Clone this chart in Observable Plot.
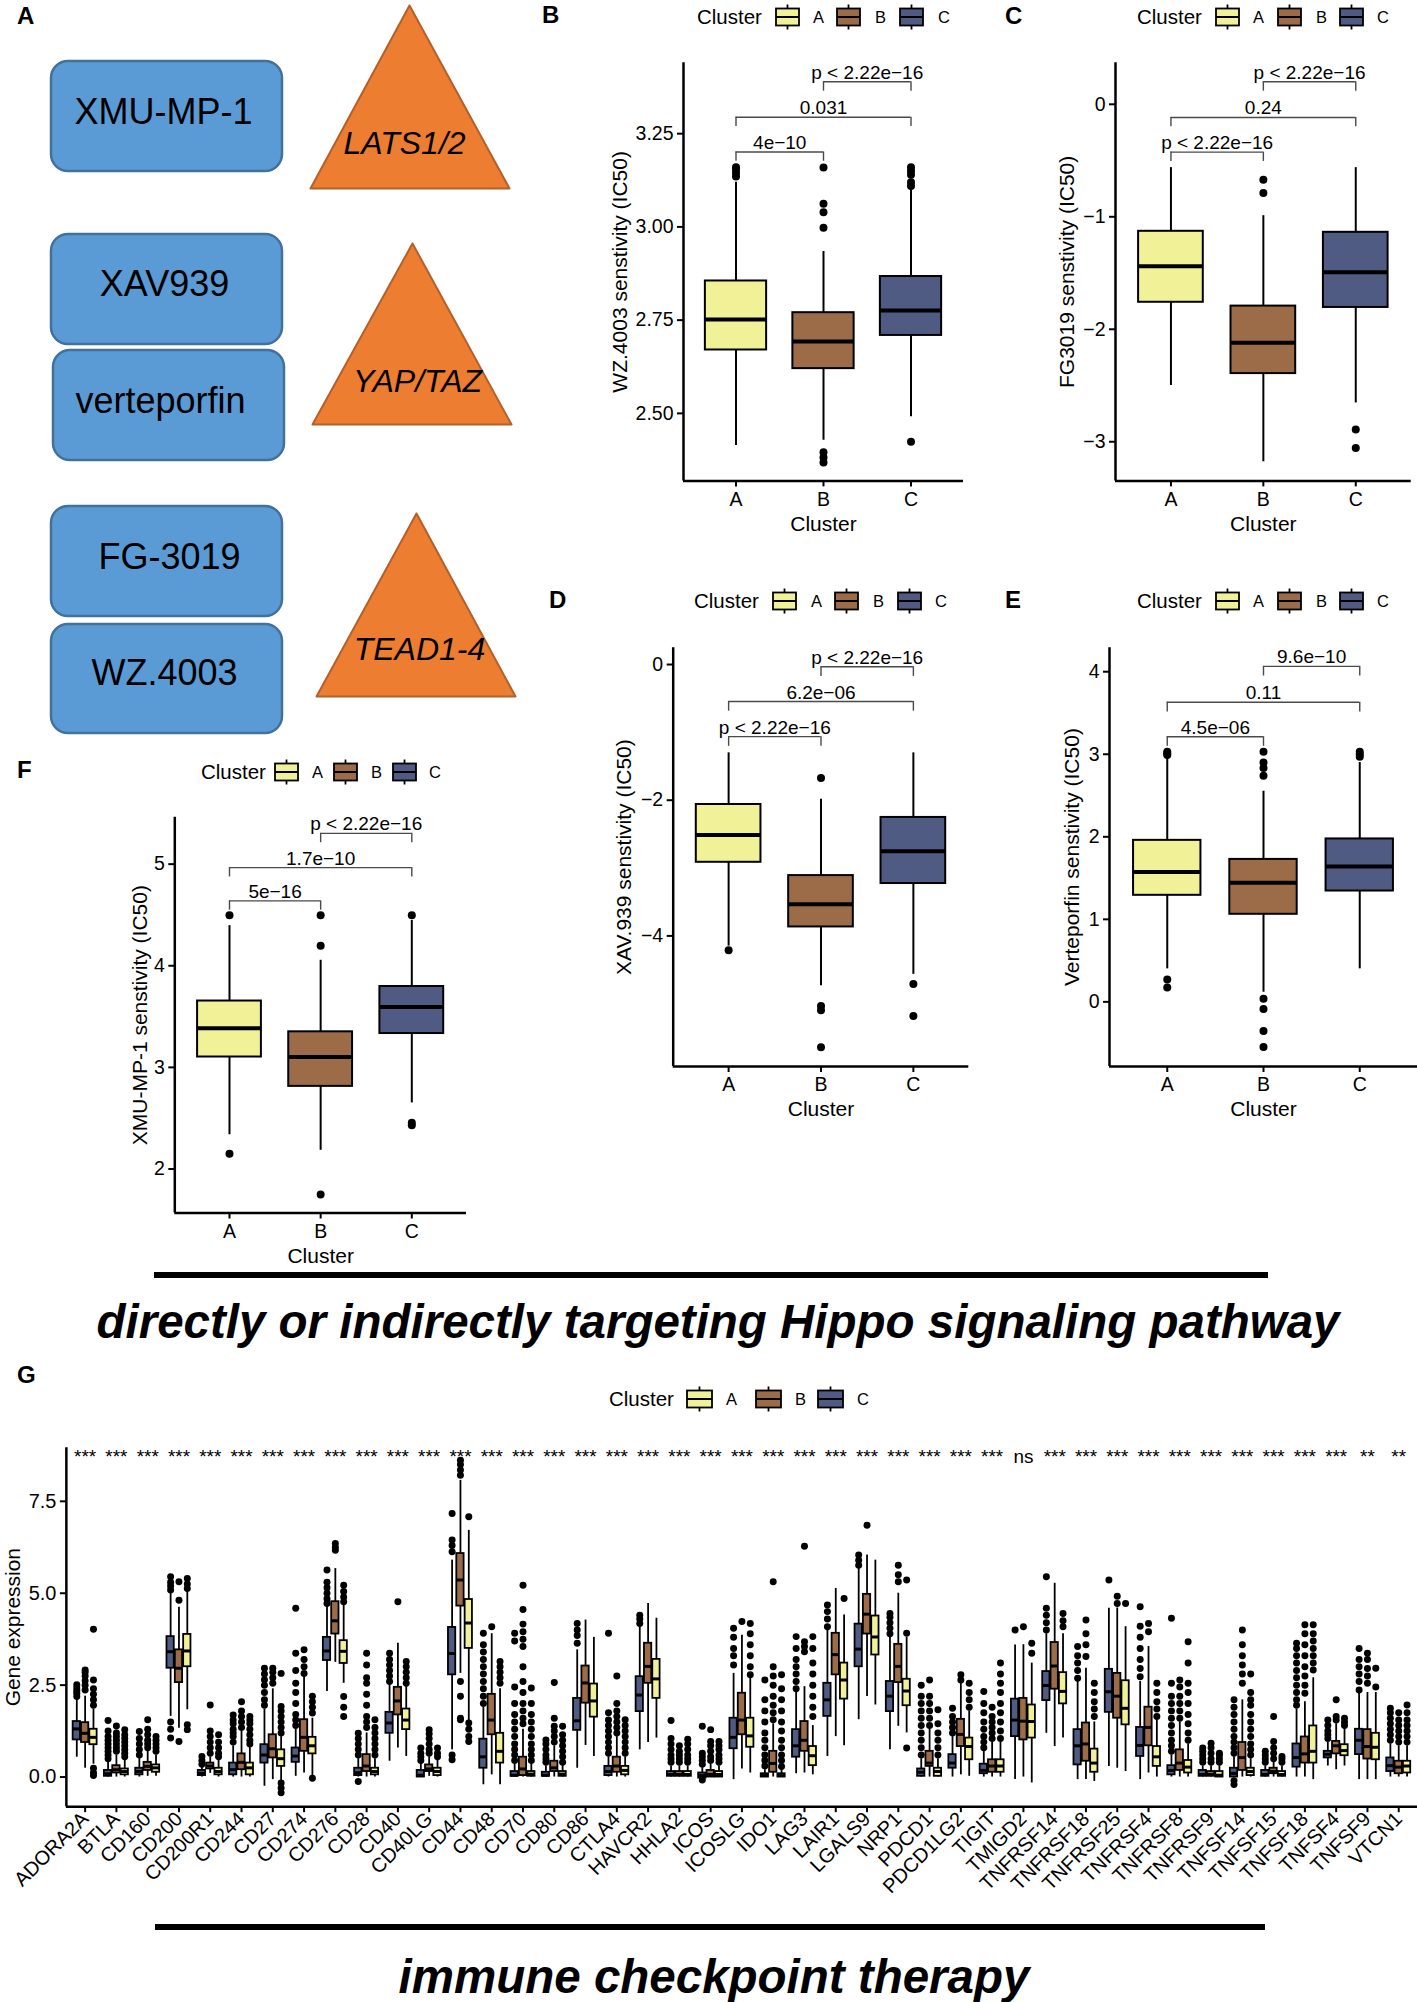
<!DOCTYPE html>
<html><head><meta charset="utf-8">
<script src="https://cdn.jsdelivr.net/npm/d3@7"></script>
<script src="https://cdn.jsdelivr.net/npm/@observablehq/plot@0.6"></script>
<style>
body{margin:0;background:#fff;}
#page{position:relative;width:1417px;height:2002px;overflow:hidden;background:#fff;font-family:"Liberation Sans",Arial,Helvetica,sans-serif;}
</style></head><body><div id="page"></div>
<script>
// ---------------- DATA ----------------
const clusters = ["A", "B", "C"];
const clusterColors = ["#F1F198", "#9C6B47", "#4F5B82"];

// Panel A (schematic)
const aDrugs = ["XMU-MP-1", "XAV939", "verteporfin", "FG-3019", "WZ.4003"];
const aTargets = ["LATS1/2", "YAP/TAZ", "TEAD1-4"];

// Drug sensitivity boxplots: [lo whisker, q1, median, q3, hi whisker] for A, B, C
const wzStats = [[2.414, 2.670, 2.752, 2.855, 3.12], [2.428, 2.620, 2.693, 2.770, 2.934], [2.491, 2.709, 2.776, 2.867, 3.10]];
const wzOut = [[3.135, 3.145, 3.155, 3.16], [3.159, 3.062, 3.039, 2.998, 2.396, 2.382, 2.368], [3.16, 3.15, 3.14, 3.12, 3.11, 2.424]];
const wzP = ["4e\u221210", "0.031", "p < 2.22e\u221216"];

const fgStats = [[-2.50, -1.76, -1.44, -1.129, -0.563], [-3.178, -2.394, -2.12, -1.794, -0.99], [-2.655, -1.806, -1.492, -1.138, -0.563]];
const fgOut = [[], [-0.671, -0.788], [-2.892, -3.055]];
const fgP = ["p < 2.22e\u221216", "0.24", "p < 2.22e\u221216"];

const xavStats = [[-4.15, -2.915, -2.513, -2.063, -1.302], [-4.735, -3.868, -3.534, -3.111, -1.984], [-4.566, -3.228, -2.751, -2.254, -1.302]];
const xavOut = [[-4.212], [-1.672, -5.032, -5.095, -5.64], [-4.709, -5.18]];
const xavP = ["p < 2.22e\u221216", "6.2e\u221206", "p < 2.22e\u221216"];

const vpStats = [[0.40, 1.291, 1.574, 1.957, 2.965], [0.117, 1.061, 1.443, 1.726, 2.552], [0.40, 1.343, 1.639, 1.974, 2.90]];
const vpOut = [[3.03, 3.01, 2.99, 0.27, 0.174], [3.03, 2.90, 2.835, 2.74, 0.039, -0.087, -0.352, -0.548], [3.03, 3.00, 2.97]];
const vpP = ["4.5e\u221206", "0.11", "9.6e\u221210"];

const xmuStats = [[2.337, 3.102, 3.384, 3.653, 4.395], [2.184, 2.813, 3.102, 3.350, 4.054], [2.65, 3.333, 3.595, 3.796, 4.446]];
const xmuOut = [[4.497, 2.15], [4.497, 4.197, 1.748], [4.497, 2.456, 2.43]];
const xmuP = ["5e\u221216", "1.7e\u221210", "p < 2.22e\u221216"];

// Panel G: immune checkpoint genes
const genes = ["ADORA2A","BTLA","CD160","CD200","CD200R1","CD244","CD27","CD274","CD276","CD28","CD40","CD40LG","CD44","CD48","CD70","CD80","CD86","CTLA4","HAVCR2","HHLA2","ICOS","ICOSLG","IDO1","LAG3","LAIR1","LGALS9","NRP1","PDCD1","PDCD1LG2","TIGIT","TMIGD2","TNFRSF14","TNFRSF18","TNFRSF25","TNFRSF4","TNFRSF8","TNFRSF9","TNFSF14","TNFSF15","TNFSF18","TNFSF4","TNFSF9","VTCN1"];
const gSignif = ["***","***","***","***","***","***","***","***","***","***","***","***","***","***","***","***","***","***","***","***","***","***","***","***","***","***","***","***","***","***","ns","***","***","***","***","***","***","***","***","***","***","**","**"];
// [lo, q1, median, q3, hi]
const gStatsC = [[0.54,1.01,1.31,1.51,2.10],[0,0.02,0.09,0.18,0.42],[0,0.06,0.15,0.24,0.5],[1.65,2.96,3.41,3.82,5.0],[0,0.04,0.1,0.18,0.3],[0,0.06,0.2,0.38,0.85],[-0.25,0.38,0.60,0.88,1.85],[0.02,0.40,0.57,0.79,1.3],[2.33,3.17,3.43,3.80,4.65],[0,0.04,0.12,0.24,0.5],[0.43,1.19,1.47,1.76,2.5],[0,0,0.05,0.18,0.4],[0.74,2.78,3.36,4.07,5.9],[-0.21,0.24,0.55,1.03,1.9],[0,0.02,0.05,0.15,0.35],[0,0.02,0.05,0.13,0.3],[0.24,1.27,1.53,2.14,3.46],[0,0.04,0.15,0.29,0.55],[0.74,1.78,2.23,2.73,4.1],[0,0.02,0.07,0.15,0.3],[-0.05,-0.03,0.04,0.11,0.25],[-0.07,0.77,1.08,1.6,2.82],[0,0,0.04,0.09,0.2],[0.09,0.54,0.85,1.29,2.3],[0.56,1.65,2.10,2.55,4.0],[1.56,3.0,3.48,4.16,5.7],[0.74,1.78,2.2,2.6,3.8],[0,0.02,0.13,0.22,0.5],[0,0.24,0.38,0.61,1.1],[0,0.09,0.18,0.35,0.7],[-0.07,1.1,1.55,2.12,3.59],[1.19,2.08,2.49,2.87,3.9],[-0.07,0.33,0.85,1.29,2.6],[0.29,1.76,2.32,2.93,4.59],[-0.07,0.56,0.86,1.35,2.6],[0,0.06,0.18,0.31,0.6],[0,0.02,0.07,0.18,0.3],[0,0,0.1,0.24,0.55],[0,0.02,0.07,0.18,0.3],[0,0.27,0.53,0.9,1.85],[0.3,0.52,0.62,0.70,0.95],[-0.07,0.61,1.0,1.3,2.3],[0,0.15,0.31,0.52,0.9]];
const gStatsB = [[0.24,0.94,1.19,1.48,2.2],[0,0.11,0.2,0.31,0.6],[0.02,0.18,0.29,0.40,0.72],[1.33,2.57,2.96,3.46,4.62],[0.1,0.22,0.3,0.38,0.55],[0,0.2,0.4,0.63,1.25],[-0.07,0.52,0.77,1.15,2.4],[0.11,0.70,1.08,1.56,2.75],[3.12,3.89,4.25,4.77,5.67],[0,0.15,0.3,0.61,1.2],[0.79,1.69,2.07,2.44,3.64],[0.02,0.15,0.22,0.33,0.55],[2.82,4.65,5.36,6.08,8.07],[0.06,1.15,1.55,2.25,3.9],[0,0.04,0.22,0.54,1.3],[0,0.15,0.25,0.43,0.85],[0.86,2.01,2.56,3.02,4.27],[0,0.13,0.30,0.54,1.1],[0.94,2.55,3.01,3.64,4.72],[0,0.02,0.07,0.15,0.3],[0,0,0.07,0.18,0.35],[0.22,1.15,1.55,2.28,3.86],[0,0.13,0.37,0.70,1.45],[0.11,0.7,1.0,1.51,2.46],[1.1,2.78,3.33,3.91,5.13],[2.19,3.89,4.43,4.97,6.04],[1.38,2.57,3.01,3.61,5.0],[0,0.29,0.38,0.7,1.3],[0.06,0.83,1.16,1.57,2.6],[0,0.13,0.30,0.47,0.95],[0,1.01,1.52,2.14,3.6],[0.83,2.39,3.02,3.66,5.27],[-0.07,0.43,0.90,1.47,2.96],[0.24,1.6,2.20,2.82,4.6],[0.11,0.85,1.35,1.9,3.55],[0,0.18,0.38,0.74,1.5],[0,0.02,0.07,0.15,0.3],[0,0.18,0.53,0.94,2.1],[0,0.09,0.15,0.24,0.4],[0,0.38,0.63,1.09,2.05],[0.2,0.63,0.85,0.97,1.45],[-0.07,0.49,0.83,1.29,2.3],[0,0.09,0.27,0.43,0.85]];
const gStatsA = [[0.35,0.88,1.08,1.30,1.85],[0,0.06,0.15,0.22,0.45],[0.02,0.13,0.25,0.33,0.6],[1.83,3.0,3.43,3.88,5.05],[0,0.06,0.15,0.24,0.45],[0,0.06,0.25,0.38,0.8],[-0.1,0.29,0.50,0.74,1.1],[0,0.63,0.85,1.08,1.6],[2.55,3.09,3.42,3.71,4.7],[0,0.06,0.15,0.24,0.5],[0.56,1.29,1.55,1.85,2.5],[0,0.04,0.15,0.24,0.45],[1.5,3.5,4.19,4.83,6.71],[-0.21,0.38,0.70,1.19,2.4],[0,0.02,0.08,0.15,0.35],[0,0.02,0.08,0.15,0.32],[0.56,1.63,2.07,2.53,3.8],[0,0.06,0.18,0.29,0.55],[1.06,2.14,2.67,3.2,4.32],[0,0.02,0.07,0.15,0.3],[0,0,0.07,0.15,0.3],[0.11,0.81,1.12,1.6,2.7],[0,0,0.04,0.09,0.2],[0.06,0.31,0.58,0.83,1.4],[0.85,2.12,2.64,3.1,4.41],[1.96,3.32,3.81,4.38,5.9],[1.2,1.94,2.34,2.66,3.8],[0,0.02,0.15,0.24,0.5],[0.02,0.47,0.83,1.06,1.8],[0,0.13,0.30,0.47,0.95],[-0.16,1.06,1.51,1.96,3.1],[1.06,1.99,2.33,2.84,3.9],[-0.12,0.13,0.38,0.76,1.5],[0.15,1.42,1.87,2.62,4.09],[0,0.29,0.55,0.83,1.55],[0,0.11,0.27,0.45,0.9],[0,0,0.05,0.15,0.3],[0,0.04,0.15,0.24,0.5],[0,0.02,0.07,0.15,0.3],[-0.07,0.38,0.70,1.39,2.7],[0.3,0.58,0.72,0.88,1.3],[-0.07,0.47,0.81,1.19,2.3],[0,0.11,0.30,0.43,0.85]];
const gOutC = [[2.19,2.28,2.35,2.42,2.51],[0.5,0.6,0.7,0.8,0.9,1.0,1.1,1.25,1.54],[0.6,0.75,0.9,1.05,1.24],[5.09,5.2,5.3,5.45,1.5,1.3,1.06],[0.35,0.45,0.56],[0.95,1.1,1.2,1.3,1.45,1.55,1.69],[1.95,2.1,2.3,2.5,2.65,2.8,2.96],[1.4,1.55,1.7,2.0,2.3,2.55,2.9,3.37,4.59],[4.72,4.85,5.0,5.15,5.3,5.63],[0.6,0.75,0.9,1.05,1.19,-0.12],[2.6,2.75,2.9,3.05,3.2,3.37],[0.45,0.55,0.65,0.79],[6.13,6.3,6.45,7.17,0.6,0.47],[2.0,2.2,2.4,2.6,2.8,3.0,3.2,3.4,3.6,3.91],[0.45,0.6,0.75,0.9,1.1,1.3,1.5,1.7,2.0,2.45,3.7,3.91],[0.4,0.5,0.6,0.75,0.9,1.01],[3.64,3.85,4.0,4.18],[0.65,0.8,0.95,1.1,1.25,1.4,1.55,1.75,3.91],[4.18,4.3,4.4],[0.4,0.5,0.6,0.75,0.9,1.05,1.54],[0.35,0.45,0.55,0.65,1.38,-0.08],[3.05,3.3,3.5,3.8,4.05],[0.3,0.45,0.6,0.8,1.0,1.2,1.5,1.8,2.1,2.64],[2.4,2.6,2.8,3.0,3.2,3.5,3.82],[4.09,4.3,4.5,4.68],[5.76,5.9,6.04],[3.9,4.05,4.2,4.35,4.45],[0.6,0.8,1.0,1.2,1.4,1.6,1.8,2.0,2.2,2.5],[1.2,1.35,1.5,1.65,1.87],[0.8,0.95,1.1,1.3,1.5,1.75,2.0,2.33],[4.0],[4.0,4.2,4.4,4.59,5.45],[2.69,2.9,3.1,3.3,3.55],[5.36],[2.73,2.95,3.2,3.5,3.8,4.1,4.63],[0.7,0.85,1.0,1.2,1.4,1.6,1.8,2.0,2.2,2.55,4.32],[0.4,0.5,0.6,0.7,0.79],[0.65,0.8,0.95,1.1,1.3,1.5,1.7,1.9,2.1,-0.1,-0.2],[0.4,0.5,0.6,0.7],[1.95,2.1,2.3,2.5,2.7,2.9,3.1,3.3,3.5,3.64],[1.05,1.15,1.25,1.4,1.55],[2.37,2.6,2.8,3.0,3.2,3.5],[1.0,1.15,1.3,1.45,1.6,1.75,1.87]];
const gOutB = [[2.37,2.5,2.62,2.75,2.85,2.91],[0.7,0.8,0.9,1.0,1.1,1.2,1.39],[0.8,0.9,1.0,1.15,1.3,1.56],[4.81,5.31,0.97],[0.65,0.8,0.95,1.1,1.25,1.96],[1.35,1.5,1.65,1.8,2.05],[2.55,2.7,2.85,2.96],[2.82,3.0,3.2,3.46],[6.17,6.25,6.35],[1.35,1.5,1.65,1.95,2.25,2.55,2.7,3.05,3.37],[4.77],[0.65,0.75,0.9,1.05,1.18,1.29],[8.21,8.35,8.5,8.62,2.6,2.2,1.6,1.56],[4.09],[1.45,1.6,1.8,2.0,2.3,2.6,3.0,3.55,3.75,3.95,4.16,4.56,5.22],[0.95,1.1,1.25,1.38,1.6,2.57],[],[1.2,1.35,1.5,1.65,1.8,2.0,2.75],[],[0.4,0.5,0.6,0.7,0.85],[0.45,0.55,0.7,0.85,0.97,1.29],[4.23],[1.56,1.75,1.95,2.2,2.5,2.75,3.0,5.31],[3.41,3.55,3.68,6.28],[],[6.85],[5.31,5.5,5.76],[1.4,1.6,1.8,2.0,2.2,2.64],[2.64,2.78],[1.05,1.2,1.35,1.5,1.65,1.9],[4.09],[],[3.28,3.6,3.9,4.27],[4.72,4.92],[3.95,4.18],[1.6,1.8,2.0,2.2,2.45,2.64],[0.4,0.5,0.65,0.8,0.92],[2.55,2.8,3.05,3.3,3.6,4.0],[0.5,0.65,0.8,0.97,1.65],[2.28,2.5,2.75,3.0,3.3,3.6,3.9,4.14],[1.55,1.65,2.1],[2.55,2.75,2.95,3.2,3.37],[0.95,1.1,1.25,1.4,1.55,1.75]];
const gOutA = [[1.95,2.1,2.25,2.4,2.64,4.02,0.24,0.12,0.04],[0.55,0.65,0.75,0.85,0.95,1.05,1.15,1.29],[0.7,0.8,0.9,1.0,1.1],[5.13,5.25,5.4,1.42,1.29],[0.55,0.65,0.8,0.95,1.15],[0.9,1.0,1.15,1.3,1.45,1.55,1.65],[1.2,1.35,1.5,1.65,1.8,1.92,2.82,-0.16,-0.3,-0.43],[1.74,1.9,2.05,2.2,-0.03],[4.77,4.9,5.05,5.22,2.19,1.9,1.65],[0.6,0.75,0.9,1.05,1.2,1.35,1.56],[2.55,2.7,2.85,3.0,3.14],[0.55,0.65,0.79],[7.08,1.47,1.3,1.1,0.97],[2.55,2.7,2.85,3.0,3.14],[0.45,0.6,0.75,0.9,1.1,1.3,1.5,1.7,2.0,2.42],[0.4,0.55,0.7,0.85,1.0,1.15,1.38],[],[0.65,0.8,0.95,1.1,1.25,1.4,1.56],[],[0.4,0.5,0.6,0.75,0.9,1.03],[0.4,0.5,0.6,0.75,0.85,0.97],[2.78,3.0,3.3,3.6,3.9,4.18],[0.29,0.45,0.6,0.8,1.0,1.25,1.5,1.8,2.1,2.4,2.78],[1.65,1.9,2.2,2.5,2.8,3.1,3.5,3.82],[4.86],[],[0.79,3.91,5.36],[0.6,0.8,1.0,1.2,1.45,1.83],[1.9,2.1,2.3,2.55],[1.05,1.25,1.5,1.75,2.0,2.3,2.55,2.8,3.1],[3.37,3.64],[4.09,4.25,4.45],[1.65,1.85,2.05,2.3,2.55],[4.72],[1.65,1.85,2.05,2.3,2.55],[1.0,1.2,1.45,1.7,2.0,2.3,2.55,3.1,3.68],[0.4,0.5,0.6,0.65],[0.6,0.75,0.9,1.1,1.3,1.5,1.7,1.95,2.1,2.3,2.8],[0.4,0.5,0.56],[2.91,3.1,3.3,3.5,3.7,3.9,4.14],[1.4,1.5,1.6],[2.45,2.96],[0.95,1.1,1.25,1.4,1.55,1.75,1.96]];

// ---------------- LAYOUT / STYLE ----------------
const FONT = '"Liberation Sans", Arial, Helvetica, sans-serif';
const page = document.getElementById("page");
function place(el, left, top) {
  el.style.position = "absolute"; el.style.left = left + "px"; el.style.top = top + "px";
  page.appendChild(el);
}
const baseStyle = {fontFamily: FONT, fontSize: "19px", color: "black", background: "transparent", overflow: "visible"};

// ---------- Panel A ----------
const aBoxLayout = [[51,282,61,171],[51,282,234,344],[53,284,350,460],[51,282,506,616],[51,282,624,733]];
const aTextLayout = [[163,112],[164,284],[160,401],[169,557],[164,673]];
const aTriLayout = [[409,5,310,509,188],[412,243,312,511,424],[416,513,316,515,696]];
const aTriText = [[404,143],[417,381],[419,649]];
{
  const boxes = aDrugs.map((name, i) => ({name, x1: aBoxLayout[i][0], x2: aBoxLayout[i][1], y1: aBoxLayout[i][2], y2: aBoxLayout[i][3], tx: aTextLayout[i][0], ty: aTextLayout[i][1]}));
  const triPts = aTargets.flatMap((t, i) => {
    const [ax, ay, bx1, bx2, by] = aTriLayout[i];
    return [[ax, ay], [bx2, by], [bx1, by], [ax, ay]].map(([x, y]) => ({t, x, y}));
  });
  const triLbl = aTargets.map((name, i) => ({name, tx: aTriText[i][0], ty: aTriText[i][1]}));
  const p = Plot.plot({
    width: 520, height: 740, margin: 0,
    x: {domain: [0, 520], range: [0, 520], axis: null},
    y: {domain: [0, 740], range: [0, 740], axis: null},
    style: baseStyle,
    marks: [
      Plot.rect(boxes, {x1: "x1", x2: "x2", y1: "y1", y2: "y2", rx: 17, fill: "#5B9BD5", stroke: "#41719C", strokeWidth: 2.5}),
      Plot.text(boxes, {x: "tx", y: "ty", text: "name", fontSize: 36, fill: "black"}),
      Plot.line(triPts, {x: "x", y: "y", z: "t", fill: "#ED7D31", stroke: "#B4602A", strokeWidth: 2}),
      Plot.text(triLbl, {x: "tx", y: "ty", text: "name", fontSize: 32, fontStyle: "italic", fill: "black"})
    ]
  });
  place(p, 0, 0);
}

// ---------- Drug panels ----------
function drugPanel(cfg) {
  const rows = clusters.map((c, i) => ({cluster: c, x: i + 1, lo: cfg.stats[i][0], q1: cfg.stats[i][1], med: cfg.stats[i][2], q3: cfg.stats[i][3], hi: cfg.stats[i][4]}));
  const dots = cfg.outs.flatMap((arr, i) => arr.map(v => ({x: i + 1, v})));
  const pairs = [[1, 2], [1, 3], [2, 3]];
  const br = pairs.map(([a, b], k) => ({a, b, y: cfg.bracketY[k], label: cfg.p[k]}));
  const tips = br.flatMap(d => [{x: d.a, y1: d.y, y2: d.y - cfg.tip}, {x: d.b, y1: d.y, y2: d.y - cfg.tip}]);
  const W = 0.35;
  return Plot.plot({
    width: cfg.w, height: cfg.h,
    marginLeft: cfg.mL, marginRight: cfg.mR, marginTop: cfg.mT, marginBottom: cfg.mB,
    style: baseStyle,
    x: {domain: [0.4, 3.6]},
    y: {domain: cfg.domain},
    color: {domain: clusters, range: clusterColors},
    marks: [
      Plot.ruleX(rows, {x: "x", y1: "lo", y2: "hi", stroke: "black", strokeWidth: 2}),
      Plot.rect(rows, {x1: d => d.x - W, x2: d => d.x + W, y1: "q1", y2: "q3", fill: "cluster", stroke: "black", strokeWidth: 2}),
      Plot.ruleY(rows, {y: "med", x1: d => d.x - W, x2: d => d.x + W, stroke: "black", strokeWidth: 4}),
      Plot.dot(dots, {x: "x", y: "v", r: 4, fill: "black", stroke: "none"}),
      Plot.ruleY(br, {y: "y", x1: "a", x2: "b", stroke: "#4a4a4a", strokeWidth: 1.4}),
      Plot.ruleX(tips, {x: "x", y1: "y1", y2: "y2", stroke: "#4a4a4a", strokeWidth: 1.4}),
      Plot.text(br, {x: d => (d.a + d.b) / 2, y: "y", text: "label", lineAnchor: "bottom", dy: -3, fontSize: 19, fill: "black"}),
      Plot.ruleX([0.4], {stroke: "black", strokeWidth: 2.5}),
      Plot.ruleY([cfg.domain[0]], {stroke: "black", strokeWidth: 2.5}),
      Plot.axisY({ticks: cfg.ticks, tickFormat: cfg.fmt, tickSize: 6, tickPadding: 4, label: null, fontSize: 19.5, strokeWidth: 2}),
      Plot.axisX({ticks: [1, 2, 3], tickFormat: d => clusters[d - 1], tickSize: 6, tickPadding: 5, label: null, fontSize: 19.5, strokeWidth: 2}),
      Plot.text([cfg.title], {frameAnchor: "left", textAnchor: "middle", lineAnchor: "middle", dx: -cfg.titleDx, rotate: -90, fontSize: 21, fill: "black"}),
      Plot.text(["Cluster"], {frameAnchor: "bottom", textAnchor: "middle", lineAnchor: "middle", dy: 43, fontSize: 21, fill: "black"})
    ]
  });
}

place(drugPanel({stats: wzStats, outs: wzOut, p: wzP, bracketY: [3.201, 3.294, 3.389], tip: 0.025,
  domain: [2.319, 3.440], ticks: [2.5, 2.75, 3.0, 3.25], fmt: d3.format(".2f"), title: "WZ.4003 senstivity (IC50)",
  w: 480, h: 500, mL: 163, mR: 37, mT: 22.3, mB: 59.6, titleDx: 63.5}), 520, 40);

place(drugPanel({stats: fgStats, outs: fgOut, p: fgP, bracketY: [-0.425, -0.117, 0.2], tip: 0.083,
  domain: [-3.348, 0.369], ticks: [-3, -2, -1, 0], fmt: d3.format("d"), title: "FG3019 senstivity (IC50)",
  w: 427, h: 500, mL: 125, mR: 6.3, mT: 22.3, mB: 59.6, titleDx: 48}), 990, 40);

place(drugPanel({stats: xavStats, outs: xavOut, p: xavP, bracketY: [-1.063, -0.545, -0.032], tip: 0.143,
  domain: [-5.925, 0.248], ticks: [-4, -2, 0], fmt: d3.format("d"), title: "XAV.939 senstivity (IC50)",
  w: 480, h: 520, mL: 152.7, mR: 31.7, mT: 37.2, mB: 64, titleDx: 49}), 520, 610);

place(drugPanel({stats: vpStats, outs: vpOut, p: vpP, bracketY: [3.213, 3.63, 4.065], tip: 0.117,
  domain: [-0.783, 4.291], ticks: [0, 1, 2, 3, 4], fmt: d3.format("d"), title: "Verteporfin senstivity (IC50)",
  w: 427, h: 520, mL: 119, mR: 0, mT: 37.2, mB: 64, titleDx: 37}), 990, 610);

place(drugPanel({stats: xmuStats, outs: xmuOut, p: xmuP, bracketY: [4.639, 4.966, 5.303], tip: 0.092,
  domain: [1.567, 5.461], ticks: [2, 3, 4, 5], fmt: d3.format("d"), title: "XMU-MP-1 senstivity (IC50)",
  w: 520, h: 490, mL: 174.3, mR: 54, mT: 36.8, mB: 57.5, titleDx: 35}), 0, 780);

// ---------- Panel G ----------
{
  const DODGE = 0.8 / 3, HALF = 0.35 / 3;
  const groups = [["C", gStatsC, gOutC, -1], ["B", gStatsB, gOutB, 0], ["A", gStatsA, gOutA, 1]];
  const rows = genes.flatMap((g, i) => groups.map(([c, st, , k]) => ({i, c, xc: i + k * DODGE, lo: st[i][0], q1: st[i][1], med: st[i][2], q3: st[i][3], hi: st[i][4]})));
  const dots = genes.flatMap((g, i) => groups.flatMap(([c, , out, k]) => out[i].map(v => ({xc: i + k * DODGE, v}))));
  const sig = genes.map((g, i) => ({i, s: gSignif[i]}));
  const yMin = -0.806;
  const p = Plot.plot({
    width: 1420, height: 500, marginLeft: 66, marginRight: 0, marginTop: 27.3, marginBottom: 113,
    style: baseStyle,
    x: {domain: [-0.6, 42.6]},
    y: {domain: [yMin, 8.958]},
    color: {domain: clusters, range: clusterColors},
    marks: [
      Plot.dot(dots, {x: "xc", y: "v", r: 3.5, fill: "black", stroke: "none"}),
      Plot.ruleX(rows, {x: "xc", y1: "lo", y2: "hi", stroke: "black", strokeWidth: 1.8}),
      Plot.rect(rows, {x1: d => d.xc - HALF, x2: d => d.xc + HALF, y1: "q1", y2: "q3", fill: "c", stroke: "black", strokeWidth: 1.8}),
      Plot.ruleY(rows, {y: "med", x1: d => d.xc - HALF, x2: d => d.xc + HALF, stroke: "black", strokeWidth: 3}),
      Plot.text(sig, {x: "i", y: 8.53, text: "s", lineAnchor: "bottom", fontSize: 19, fill: "black"}),
      Plot.ruleX([-0.6], {stroke: "black", strokeWidth: 2.5}),
      Plot.ruleY([yMin], {stroke: "black", strokeWidth: 2.5}),
      Plot.axisY({ticks: [0, 2.5, 5, 7.5], tickFormat: d3.format(".1f"), tickSize: 6, tickPadding: 4, label: null, fontSize: 20, strokeWidth: 2}),
      Plot.axisX({ticks: d3.range(genes.length), tickFormat: i => genes[i], tickRotate: -45, tickSize: 6, tickPadding: 3, label: null, fontSize: 20, strokeWidth: 2}),
      Plot.text(["Gene expression"], {frameAnchor: "left", textAnchor: "middle", lineAnchor: "middle", dx: -53, rotate: -90, fontSize: 21, fill: "black"})
    ]
  });
  place(p, 0, 1420);
}

// ---------- Overlay: panel letters, legends, captions ----------
const svg = d3.select(page).append("svg")
  .attr("width", 1417).attr("height", 2002)
  .style("position", "absolute").style("left", 0).style("top", 0)
  .style("pointer-events", "none")
  .attr("font-family", FONT);

const letters = [["A", 17, 24], ["B", 542, 23], ["C", 1005, 24], ["D", 549, 608], ["E", 1005, 608], ["F", 17, 778], ["G", 17, 1383]];
letters.forEach(([t, x, y]) => svg.append("text").attr("x", x).attr("y", y).attr("font-size", 24).attr("font-weight", "bold").text(t));

const legends = [
  {title: 697, cy: 17, keys: [776, 837, 900], labels: [813, 875, 938], kw: 23},
  {title: 1137, cy: 17, keys: [1216, 1278, 1340], labels: [1253, 1316, 1377], kw: 23},
  {title: 694, cy: 601, keys: [773, 835, 898], labels: [811, 873, 935], kw: 23},
  {title: 1137, cy: 601, keys: [1216, 1278, 1340], labels: [1253, 1316, 1377], kw: 23},
  {title: 201, cy: 772, keys: [275, 334, 393], labels: [312, 371, 429], kw: 23},
  {title: 609, cy: 1399, keys: [687, 756, 818], labels: [726, 795, 857], kw: 25}
];
legends.forEach(cfg => {
  const g = svg.append("g");
  g.append("text").attr("x", cfg.title).attr("y", cfg.cy + 7).attr("font-size", 20.5).text("Cluster");
  clusters.forEach((c, i) => {
    const x = cfg.keys[i], w = cfg.kw, h = 17, y = cfg.cy - h / 2, xm = x + w / 2;
    g.append("line").attr("x1", xm).attr("x2", xm).attr("y1", y - 4).attr("y2", y + h + 4).attr("stroke", "black").attr("stroke-width", 1.8);
    g.append("rect").attr("x", x).attr("y", y).attr("width", w).attr("height", h).attr("fill", clusterColors[i]).attr("stroke", "black").attr("stroke-width", 1.8);
    g.append("line").attr("x1", x).attr("x2", x + w).attr("y1", cfg.cy).attr("y2", cfg.cy).attr("stroke", "black").attr("stroke-width", 2);
    g.append("text").attr("x", cfg.labels[i]).attr("y", cfg.cy + 6).attr("font-size", 16.5).text(c);
  });
});

svg.append("line").attr("x1", 154).attr("x2", 1268).attr("y1", 1275).attr("y2", 1275).attr("stroke", "black").attr("stroke-width", 6);
svg.append("line").attr("x1", 155).attr("x2", 1265).attr("y1", 1927).attr("y2", 1927).attr("stroke", "black").attr("stroke-width", 6);
svg.append("text").attr("x", 718).attr("y", 1338).attr("text-anchor", "middle").attr("font-size", 47.5).attr("font-weight", "bold").attr("font-style", "italic")
  .text("directly or indirectly targeting Hippo signaling pathway");
svg.append("text").attr("x", 714).attr("y", 1993).attr("text-anchor", "middle").attr("font-size", 47.5).attr("font-weight", "bold").attr("font-style", "italic")
  .text("immune checkpoint therapy");
</script></body></html>
